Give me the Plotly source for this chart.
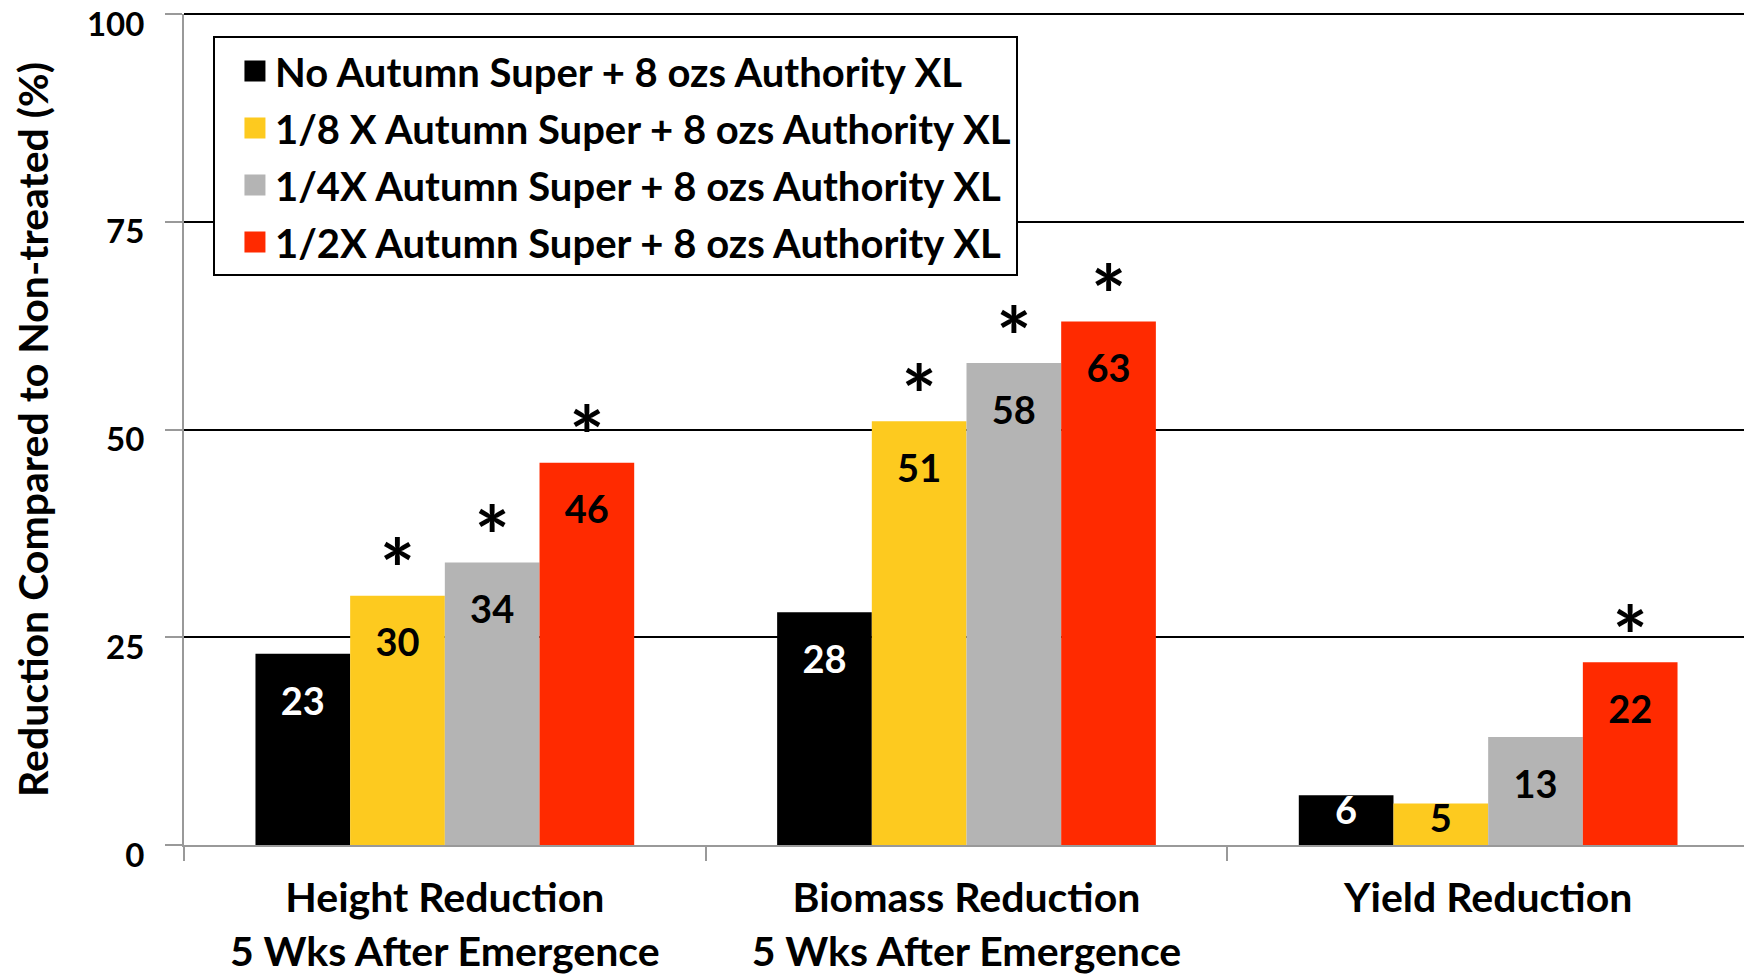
import plotly.graph_objects as go

categories = ["Height Reduction<br>5 Wks After Emergence",
              "Biomass Reduction<br>5 Wks After Emergence",
              "Yield Reduction"]
series_names = ["No Autumn Super + 8 ozs Authority XL",
                "1/8 X Autumn Super + 8 ozs Authority XL",
                "1/4X Autumn Super + 8 ozs Authority XL",
                "1/2X Autumn Super + 8 ozs Authority XL"]
no_autumn = [23, 28, 6]
eighth_x = [30, 51, 5]
quarter_x = [34, 58, 13]
half_x = [46, 63, 22]
series_values = [no_autumn, eighth_x, quarter_x, half_x]
# significance flags (asterisk above bar)
significant = [[False, False, False],
               [True, True, False],
               [True, True, False],
               [True, True, True]]
y_ticks = [0, 25, 50, 75, 100]

colors = ["#000000", "#FDCA1F", "#B4B4B4", "#FF2A00"]
label_colors = ["#FFFFFF", "#000000", "#000000", "#000000"]
FONT = "Lato"

fig = go.Figure()
for i, (name, vals) in enumerate(zip(series_names, series_values)):
    fig.add_trace(go.Bar(x=categories, y=vals, name=name, marker_color=colors[i],
                         marker_line_width=0, offsetgroup=str(i), showlegend=False,
                         hoverinfo="skip"))
for i, (name, vals) in enumerate(zip(series_names, series_values)):
    # value labels inside bars
    msize = [50 if v > 10 else 0 for v in vals]
    fig.add_trace(go.Scatter(x=categories, y=vals, mode="markers+text",
                             text=[str(v) for v in vals], textposition="bottom center",
                             marker=dict(size=msize, opacity=0),
                             textfont=dict(family=FONT, size=38, color=label_colors[i], weight="bold"),
                             offsetgroup=str(i), showlegend=False, hoverinfo="skip", cliponaxis=False))
    # asterisks (only on significant bars)
    ast_x = [c for c, s in zip(categories, significant[i]) if s]
    ast_y = [v for v, s in zip(vals, significant[i]) if s]
    if ast_x:
        fig.add_trace(go.Scatter(x=ast_x, y=ast_y, mode="text",
                                 text=['<span style="font-size:83px">*</span>'] * len(ast_x),
                                 textposition="middle center",
                                 textfont=dict(family=FONT, size=19, color="#000000", weight="bold"),
                                 offsetgroup=str(i), showlegend=False, hoverinfo="skip",
                                 cliponaxis=False))
    # legend entry
    fig.add_trace(go.Scatter(x=[None], y=[None], mode="markers", name=name,
                             marker=dict(symbol="square", size=16, color=colors[i],
                                         line=dict(color=colors[i], width=5)),
                             offsetgroup=str(i), legendgroup=str(i), showlegend=True,
                             hoverinfo="skip"))

fig.update_layout(
    width=1744, height=967,
    margin=dict(l=176, r=3, t=6, b=130),
    paper_bgcolor="white", plot_bgcolor="white",
    barmode="group", bargap=0.274, bargroupgap=0,
    scattermode="group", scattergap=0.274,
    hovermode=False,
    font=dict(family=FONT, color="#000000"),
    showlegend=True,
    legend=dict(x=0.0185, y=0.973, xanchor="left", yanchor="top",
                bgcolor="white", bordercolor="#000000", borderwidth=2,
                font=dict(family=FONT, size=40, color="#000000", weight="bold"),
                tracegroupgap=2, itemsizing="trace", indentation=20),
    xaxis=dict(type="category", showline=True, linecolor="#999999", linewidth=2,
               ticks="outside", tickson="boundaries", ticklen=14, tickcolor="#999999",
               tickwidth=2, showgrid=False, automargin=False,
               tickfont=dict(family=FONT, size=41, color="#000000", weight="bold"),
               ticklabelstandoff=16),
    yaxis=dict(range=[0, 100.001], tickvals=y_ticks, showline=True, linecolor="#999999",
               linewidth=2, ticks="outside", ticklen=17, tickcolor="#999999", tickwidth=2,
               showgrid=True, gridcolor="#000000", gridwidth=1.5, zeroline=False,
               automargin=False, ticklabeloverflow="allow", ticklabelshift=10,
               tickfont=dict(family=FONT, size=33, color="#000000", weight="bold"),
               ticklabelstandoff=14,
               title=dict(text="Reduction Compared to Non-treated (%)",
                          font=dict(family=FONT, size=41, color="#000000", weight="bold"),
                          standoff=26)),
)
fig.add_shape(type="line", xref="paper", yref="paper", x0=1, x1=1, y0=0, y1=1,
              line=dict(color="#000000", width=2))
fig.add_shape(type="line", xref="paper", yref="paper", x0=0, x1=1, y0=1, y1=1,
              line=dict(color="#000000", width=2))

fig.write_html("out.html")
